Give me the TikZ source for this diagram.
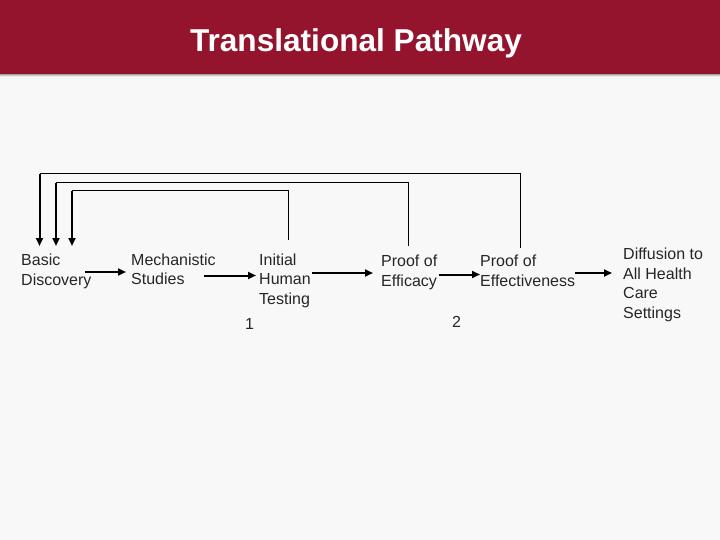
\documentclass[tikz,border=0pt]{standalone}
\usepackage{fontspec}
\setmainfont{Liberation Sans}
\usetikzlibrary{arrows.meta}
\definecolor{banner}{RGB}{147,20,44}
\definecolor{bg}{RGB}{248,248,248}
\definecolor{shade}{RGB}{120,95,100}
\tikzset{
  lbl/.style={anchor=base west, inner sep=0pt, align=left, font=\fontsize{16}{19.5}\selectfont, text=black!85},
  num/.style={anchor=base west, inner sep=0pt, font=\fontsize{16}{19.5}\selectfont, text=black!85},
  fwd/.style={line width=2pt, -{Triangle[length=8pt,width=7pt]}},
  back/.style={line width=1pt},
  down/.style={line width=2pt, -{Triangle[length=8pt,width=7pt]}},
}
\begin{document}
\begin{tikzpicture}[x=1pt,y=-1pt]
\useasboundingbox (0,0) rectangle (720,540);
\fill[bg] (0,0) rectangle (720,540);
\fill[shade] (0,73) rectangle (720,76.5);
\fill[banner] (0,0) rectangle (720,74);
\node[font=\fontsize{31.6}{36}\selectfont\bfseries, text=white, inner sep=0pt] (title) at (356,43.5) {Translational Pathway};

\node[lbl] (bd) at (21,285) {Basic\\Discovery};
\node[lbl] (ms) at (131,284.5) {Mechanistic\\Studies};
\node[lbl] (iht) at (259,304) {Initial\\Human\\Testing};
\node[lbl] (pe) at (381,286) {Proof of\\Efficacy};
\node[lbl] (pef) at (480,286) {Proof of\\Effectiveness};
\node[lbl] (dif) at (623,318) {Diffusion to\\All Health\\Care\\Settings};
\node[num] (n1) at (245,329) {1};
\node[num] (n2) at (452,327) {2};

% forward connectors
\coordinate (a1) at (85,272);   \coordinate (b1) at (126,272);
\coordinate (a2) at (204,275.5);\coordinate (b2) at (256,275.5);
\coordinate (a3) at (312,273);  \coordinate (b3) at (373,273);
\coordinate (a4) at (439,274.5);\coordinate (b4) at (480,274.5);
\coordinate (a5) at (575,273);  \coordinate (b5) at (612,273);
\draw[fwd] (a1) -- (b1);
\draw[fwd] (a2) -- (b2);
\draw[fwd] (a3) -- (b3);
\draw[fwd] (a4) -- (b4);
\draw[fwd] (a5) -- (b5);

% feedback connectors
\coordinate (r1) at (520,248); \coordinate (t1) at (520,173.5); \coordinate (u1) at (39.5,173.5); \coordinate (e1) at (39.5,246);
\coordinate (r2) at (408,246); \coordinate (t2) at (408,182.5); \coordinate (u2) at (56,182.5); \coordinate (e2) at (56,246);
\coordinate (r3) at (288,240); \coordinate (t3) at (288,191);   \coordinate (u3) at (72,191);   \coordinate (e3) at (72,246);
\draw[back] (r1) -- (t1) -- (u1);
\draw[back] (r2) -- (t2) -- (u2);
\draw[back] (r3) -- (t3) -- (u3);
\draw[down] ([yshift=-0.5pt]u1) -- (e1);
\draw[down] ([yshift=-0.5pt]u2) -- (e2);
\draw[down] ([yshift=-0.5pt]u3) -- (e3);
\end{tikzpicture}
\end{document}
